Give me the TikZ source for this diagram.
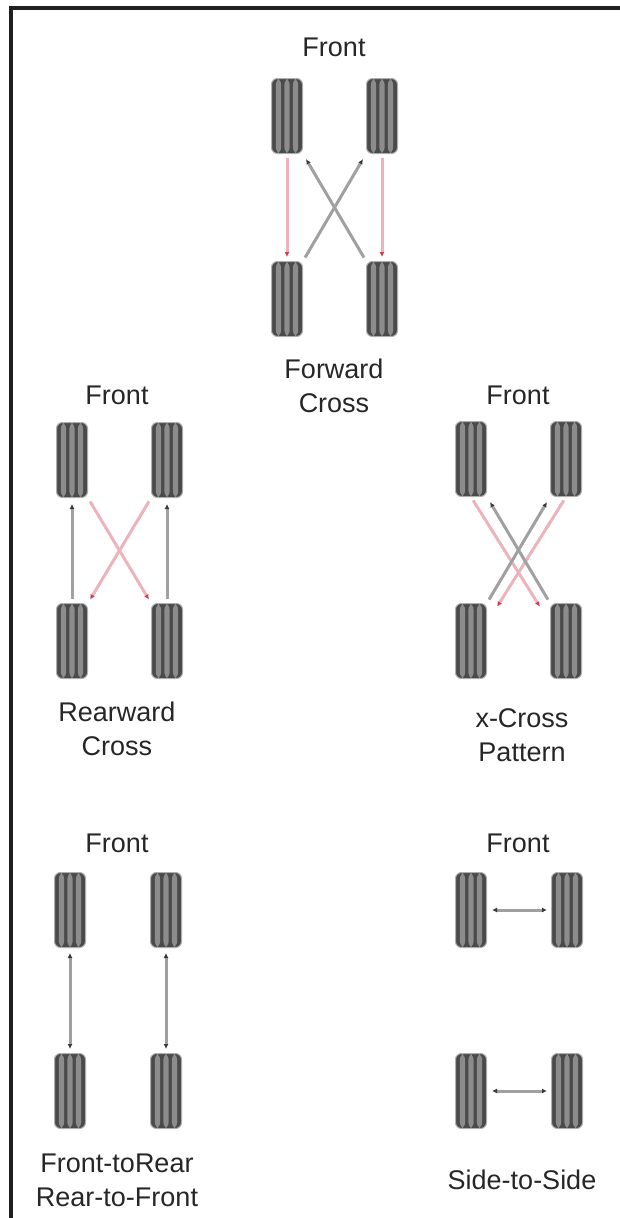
\documentclass[tikz,border=0pt]{standalone}
\usepackage{fontspec}
\setmainfont{Liberation Sans}
\usetikzlibrary{arrows.meta,calc}
\definecolor{tiredark}{HTML}{4A4A4A}
\definecolor{tirelight}{HTML}{8C8C8C}
\definecolor{swapred}{HTML}{EDB3BC}
\definecolor{headred}{HTML}{D23A4E}
\definecolor{swapgray}{HTML}{A0A0A0}
\definecolor{headgray}{HTML}{3A3A3A}
\begin{document}
\begin{tikzpicture}
[ x=1pt, y=-1pt
, tire/.style={rectangle, minimum width=31pt, minimum height=75pt, inner sep=0pt, rounded corners=6pt, fill=tiredark,
    draw=tiredark!45, line width=1pt,
    path picture={\foreach \sx in {-8.5,0,8.5}
      \fill[tirelight] ($(path picture bounding box.north)+(\sx-2.6,0)$) rectangle ($(path picture bounding box.south)+(\sx+2.6,0)$);}}
, caption/.style={font=\fontsize{27}{34}\selectfont, text=black!85, align=center, inner sep=0pt}
, redswap/.style={draw=swapred, line width=3pt, -{Latex[length=5pt,width=5pt,color=headred]}, shorten <=4pt, shorten >=4pt}
, grayswap/.style={draw=swapgray, line width=3pt, -{Latex[length=5pt,width=5pt,color=headgray]}, shorten <=4pt, shorten >=6pt}
, bothswap/.style={draw=swapgray, line width=3pt, {Latex[length=5pt,width=5pt,color=headgray]}-{Latex[length=5pt,width=5pt,color=headgray]}, shorten <=5pt, shorten >=4pt}
]
\useasboundingbox (0,0) rectangle (620,1218);
\draw [line width=4pt, black!88] (10.5,1230) -- (10.5,7.5) -- (630,7.5);
% Forward cross:
\node (fxfront) [caption] at (334,47) {Front};
\node (fxfl) [tire] at (287,116) {};
\node (fxfr) [tire] at (382,116) {};
\node (fxrl) [tire] at (287,299) {};
\node (fxrr) [tire] at (382,299) {};
\node (fxname) [caption] at (334,386) {Forward\\Cross};
\draw [redswap] (fxfl) -- (fxrl);
\draw [redswap] (fxfr) -- (fxrr);
\draw [grayswap] (fxrl.north east) -- (fxfr.south west);
\draw [grayswap] (fxrr.north west) -- (fxfl.south east);
% Rearward cross:
\node (rxfront) [caption] at (117,395) {Front};
\node (rxfl) [tire] at (72,460) {};
\node (rxfr) [tire] at (167,460) {};
\node (rxrl) [tire] at (72,641) {};
\node (rxrr) [tire] at (167,641) {};
\node (rxname) [caption] at (117,729) {Rearward\\Cross};
\draw [grayswap] (rxrl) -- (rxfl);
\draw [grayswap] (rxrr) -- (rxfr);
\draw [redswap] (rxfl.south east) -- (rxrr.north west);
\draw [redswap] (rxfr.south west) -- (rxrl.north east);
% X-cross pattern:
\node (xxfront) [caption] at (518,395) {Front};
\node (xxfl) [tire] at (471,459) {};
\node (xxfr) [tire] at (566,459) {};
\node (xxrl) [tire] at (471,641) {};
\node (xxrr) [tire] at (566,641) {};
\node (xxname) [caption] at (522,735) {x-Cross\\Pattern};
\draw [redswap] (xxfl.south) -- ($(xxrr.north west)+(-8,7)$);
\draw [redswap] (xxfr.south) -- ($(xxrl.north east)+(8,7)$);
\draw [grayswap] (xxrl.north east) -- (xxfr.south west);
\draw [grayswap] (xxrr.north west) -- (xxfl.south east);
% Front-to-rear:
\node (ftfront) [caption] at (117,843) {Front};
\node (ftfl) [tire] at (70,910) {};
\node (ftfr) [tire] at (166,910) {};
\node (ftrl) [tire] at (70,1091) {};
\node (ftrr) [tire] at (166,1091) {};
\node (ftname) [caption] at (117,1180) {Front-toRear\\Rear-to-Front};
\draw [bothswap] (ftfl) -- (ftrl);
\draw [bothswap] (ftfr) -- (ftrr);
% Side-to-side:
\node (ssfront) [caption] at (518,843) {Front};
\node (ssfl) [tire] at (471,910) {};
\node (ssfr) [tire] at (567,910) {};
\node (ssrl) [tire] at (471,1091) {};
\node (ssrr) [tire] at (567,1091) {};
\node (ssname) [caption] at (522,1180) {Side-to-Side};
\draw [bothswap] (ssfl) -- (ssfr);
\draw [bothswap] (ssrl) -- (ssrr);
\end{tikzpicture}
\end{document}
